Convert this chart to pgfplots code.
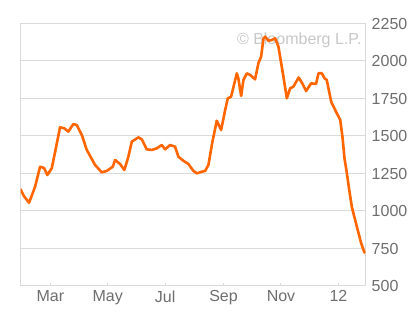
\documentclass[border=0pt]{standalone}
\usepackage{pgfplots}
\pgfplotsset{compat=1.18}
\usepackage{fontspec}
\setmainfont{Liberation Sans}
\definecolor{lineorange}{RGB}{255,102,0}
\definecolor{gridgray}{RGB}{218,218,218}
\definecolor{txtgray}{RGB}{110,110,110}
\definecolor{wmgray}{RGB}{200,200,200}
\begin{document}
\begin{tikzpicture}
\useasboundingbox (-20.5pt,-29pt) rectangle (399.5pt,286pt);
\node[anchor=base east, inner sep=0pt, text=wmgray, font=\fontsize{16}{19}\selectfont] at (341.2pt,241pt) {© Bloomberg L.P.};
\begin{axis}[
  scale only axis,
  width=345.2pt, height=262.5pt,
  xmin=28.3, xmax=395,
  ymin=500, ymax=2250,
  xtick={60,121,182,244,305,366},
  xticklabels={Mar,May,Jul,Sep,Nov,12},
  ytick={500,750,1000,1250,1500,1750,2000,2250},
  yticklabel pos=right,
  xtick pos=bottom,
  ytick style={draw=none},
  xtick style={draw=gridgray, line width=1pt},
  major tick length=2.5pt,
  tick align=inside,
  ymajorgrids,
  grid style={draw=gridgray, line width=1pt},
  axis line style={draw=gridgray, line width=1pt},
  ticklabel style={font=\fontsize{16}{19}\selectfont, text=txtgray},
  /pgf/number format/assume math mode=true,
  /pgf/number format/1000 sep={},
  yticklabel style={xshift=2.5pt},
  xticklabel style={yshift=-1.2pt},
]
\addplot[lineorange, line width=2.6pt, line join=round, line cap=round] coordinates {
(28.3,1145) (31.9,1100) (37.4,1055) (43.7,1160) (49.1,1295) (53.3,1287) (56.8,1240)
(61.5,1285) (65.5,1407) (70.3,1558) (74.9,1551) (79.1,1529) (84.4,1580) (88.1,1573)
(93.4,1507) (98.7,1407) (107.5,1307) (114.6,1258) (119.9,1267) (126.3,1295) (128.8,1340)
(134.1,1313) (138.6,1273) (142.9,1362) (146.5,1462) (153.5,1491) (157.1,1478) (162.4,1411)
(167.8,1407) (173.1,1418) (178.4,1440) (181.9,1411) (187.2,1440) (192.5,1429) (196.0,1362)
(201.3,1335) (206.7,1313) (212.0,1267) (215.6,1251) (220.9,1262) (224.4,1267) (227.9,1307)
(232.2,1462) (236.8,1602) (241.4,1540) (245.7,1673) (248.5,1751) (252.0,1762) (258.1,1918)
(259.7,1885) (262.7,1767) (265.1,1873) (268.7,1918) (272.2,1907) (277.5,1878) (281.0,1985)
(283.9,2029) (286.4,2151) (288.2,2162) (291.7,2135) (295.3,2140) (298.8,2151) (302.3,2095)
(307.6,1895) (311.2,1751) (314.7,1818) (318.2,1829) (323.8,1890) (328.0,1847) (331.7,1800)
(337.0,1851) (342.3,1847) (344.8,1918) (348.4,1918) (351.2,1885) (353.7,1873) (358.3,1729)
(362.6,1673) (367.9,1607) (370.3,1495) (372.5,1350) (374.8,1260) (377.5,1140) (380.3,1027)
(385.6,895) (390.2,785) (393.7,722)
};
\end{axis}
\end{tikzpicture}
\end{document}
